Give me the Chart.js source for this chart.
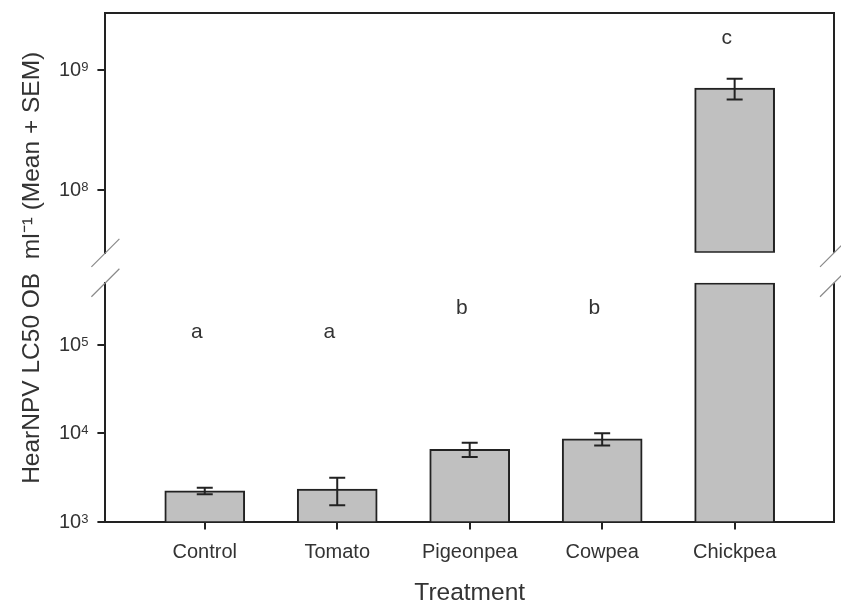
<!DOCTYPE html>
<html>
<head>
<meta charset="utf-8">
<script src="https://cdn.jsdelivr.net/npm/chart.js@4.4.1/dist/chart.umd.min.js"></script>
<style>
  html, body { margin: 0; padding: 0; background: #fff; }
  #wrap { width: 841px; height: 610px; }
</style>
</head>
<body>
<div id="wrap"><canvas id="lc50Chart"></canvas></div>
<script>
// HearNPV LC50 per host plant (mean + SEM), broken log axis

const treatments = ["Control", "Tomato", "Pigeonpea", "Cowpea", "Chickpea"];
const lc50Mean = [2230, 2330, 6560, 8600, 7.1e8];
const lc50Sem = [190, 800, 1200, 1350, 1.4e8];
const groupLetters = ["a", "a", "b", "b", "c"];
const letterAt = [1.2e5, 1.2e5, 2.2e5, 2.2e5, 1.65e9];

// two log segments either side of the axis break
const lowRange = [1e3, 5e5];
const highRange = [3e7, 3e9];
const lowTicks = [1e3, 1e4, 1e5];
const highTicks = [1e8, 1e9];

const FONT = "'Liberation Sans', Arial, sans-serif";
const INK = "#222";
const TEXT = "#333";
const LETTER_SHIFT = -0.06;

function scaleFor(chart, v) {
    return v > lowRange[1] ? chart.scales.yHigh : chart.scales.yLow;
}

// Error bars + significance letters
const annotations = {
    id: "annotations",
    afterDatasetsDraw(chart) {
        const { ctx } = chart;
        const xs = chart.scales.x;
        ctx.save();
        ctx.strokeStyle = INK;
        ctx.lineWidth = 2;
        lc50Mean.forEach((m, i) => {
            const ys = scaleFor(chart, m);
            const x = xs.getPixelForValue(i);
            const yTop = ys.getPixelForValue(m + lc50Sem[i]);
            const yBot = ys.getPixelForValue(m - lc50Sem[i]);
            ctx.beginPath();
            ctx.moveTo(x, yTop); ctx.lineTo(x, yBot);
            ctx.moveTo(x - 8, yTop); ctx.lineTo(x + 8, yTop);
            ctx.moveTo(x - 8, yBot); ctx.lineTo(x + 8, yBot);
            ctx.stroke();
        });

        ctx.fillStyle = TEXT;
        ctx.font = "21px " + FONT;
        ctx.textAlign = "center";
        ctx.textBaseline = "alphabetic";
        groupLetters.forEach((t, i) => {
            const ys = scaleFor(chart, letterAt[i]);
            ctx.fillText(t, xs.getPixelForValue(i + LETTER_SHIFT), ys.getPixelForValue(letterAt[i]));
        });
        ctx.restore();
    }
};

// 10^n labels with a raised exponent, placed at each log tick
const powerTicks = {
    id: "powerTicks",
    afterDraw(chart) {
        const { ctx } = chart;
        ctx.save();
        ctx.fillStyle = TEXT;
        ctx.textAlign = "right";
        ctx.textBaseline = "alphabetic";
        ["yHigh", "yLow"].forEach((id) => {
            const axis = chart.scales[id];
            const xr = axis.right - 8 - 9;
            axis.ticks.forEach((t) => {
                const y = axis.getPixelForValue(t.value);
                const exp = String(Math.round(Math.log10(t.value)));
                ctx.font = "13px " + FONT;
                ctx.fillText(exp, xr, y + 1);
                const w = ctx.measureText(exp).width;
                ctx.font = "20px " + FONT;
                ctx.fillText("10", xr - w, y + 6);
            });
        });
        ctx.restore();
    }
};

// Top/right frame and the break marks
const frame = {
    id: "frame",
    afterDraw(chart) {
        const { ctx, chartArea } = chart;
        const hi = chart.scales.yHigh;
        const lo = chart.scales.yLow;
        ctx.save();
        ctx.strokeStyle = INK;
        ctx.lineWidth = 2;
        ctx.beginPath();
        ctx.moveTo(chartArea.left - 1, chartArea.top);
        ctx.lineTo(chartArea.right, chartArea.top);
        ctx.lineTo(chartArea.right, hi.bottom);
        ctx.moveTo(chartArea.right, lo.top);
        ctx.lineTo(chartArea.right, chartArea.bottom);
        ctx.stroke();

        ctx.strokeStyle = "#8a8a8a";
        ctx.lineWidth = 1.2;
        ctx.beginPath();
        [chartArea.left, chartArea.right].forEach((x) => {
            [hi.bottom, lo.top].forEach((y) => {
                ctx.moveTo(x - 14, y + 14);
                ctx.lineTo(x + 14, y - 14);
            });
        });
        ctx.stroke();
        ctx.restore();
    }
};

const barStyle = {
    backgroundColor: "#c0c0c0",
    borderColor: INK,
    borderWidth: 2,
    barThickness: 80,
    grouped: false
};

const yAxisBase = {
    type: "logarithmic",
    position: "left",
    stack: "y",
    grid: { display: true, drawOnChartArea: false, drawTicks: true, tickLength: 8, color: INK, lineWidth: 2 },
    border: { display: true, color: INK, width: 2 },
    ticks: { display: false }
};

new Chart(document.getElementById("lc50Chart"), {
    type: "bar",
    data: {
        datasets: [
            {
                ...barStyle,
                yAxisID: "yLow",
                data: lc50Mean.map((m, i) => ({ x: i, y: Math.min(m, lowRange[1]) }))
            },
            {
                ...barStyle,
                yAxisID: "yHigh",
                borderSkipped: false,
                data: lc50Mean
                    .map((m, i) => ({ x: i, y: [highRange[0], m] }))
                    .filter((d) => d.y[1] > highRange[0])
            }
        ]
    },
    options: {
        responsive: true,
        maintainAspectRatio: false,
        devicePixelRatio: 1,
        animation: false,
        layout: { padding: { top: 13, right: 7, bottom: 0, left: 0 } },
        plugins: { legend: { display: false }, tooltip: { enabled: false } },
        scales: {
            x: {
                type: "linear",
                position: "bottom",
                min: -0.75,
                max: 4.75,
                offset: false,
                afterBuildTicks: (axis) => { axis.ticks = treatments.map((_, i) => ({ value: i })); },
                grid: { display: true, offset: false, drawOnChartArea: false, drawTicks: true, tickLength: 8, color: INK, lineWidth: 2 },
                border: { display: true, color: INK, width: 2 },
                ticks: {
                    color: TEXT, font: { family: FONT, size: 20 }, padding: 11,
                    autoSkip: false, maxRotation: 0,
                    callback: (v) => treatments[v]
                },
                title: {
                    display: true, text: "Treatment", color: TEXT,
                    font: { family: FONT, size: 24.5 }, padding: { top: 3, bottom: 2 }
                }
            },
            yHigh: {
                ...yAxisBase,
                weight: 3,
                stackWeight: 240,
                min: highRange[0],
                max: highRange[1],
                afterBuildTicks: (axis) => { axis.ticks = highTicks.map((v) => ({ value: v })); }
            },
            yGap: {
                type: "linear",
                position: "left",
                stack: "y",
                weight: 2,
                stackWeight: 30,
                min: 0,
                max: 1,
                grid: { display: false },
                border: { display: false },
                ticks: { display: false },
                title: {
                    display: true,
                    text: "HearNPV LC50 OB  ml\u207b\u00b9 (Mean + SEM)",
                    color: TEXT,
                    font: { family: FONT, size: 24.5 },
                    padding: { top: 18, bottom: 50 }
                }
            },
            yLow: {
                ...yAxisBase,
                weight: 1,
                stackWeight: 239,
                min: lowRange[0],
                max: lowRange[1],
                afterBuildTicks: (axis) => { axis.ticks = lowTicks.map((v) => ({ value: v })); }
            }
        }
    },
    plugins: [annotations, powerTicks, frame]
});
</script>
</body>
</html>
